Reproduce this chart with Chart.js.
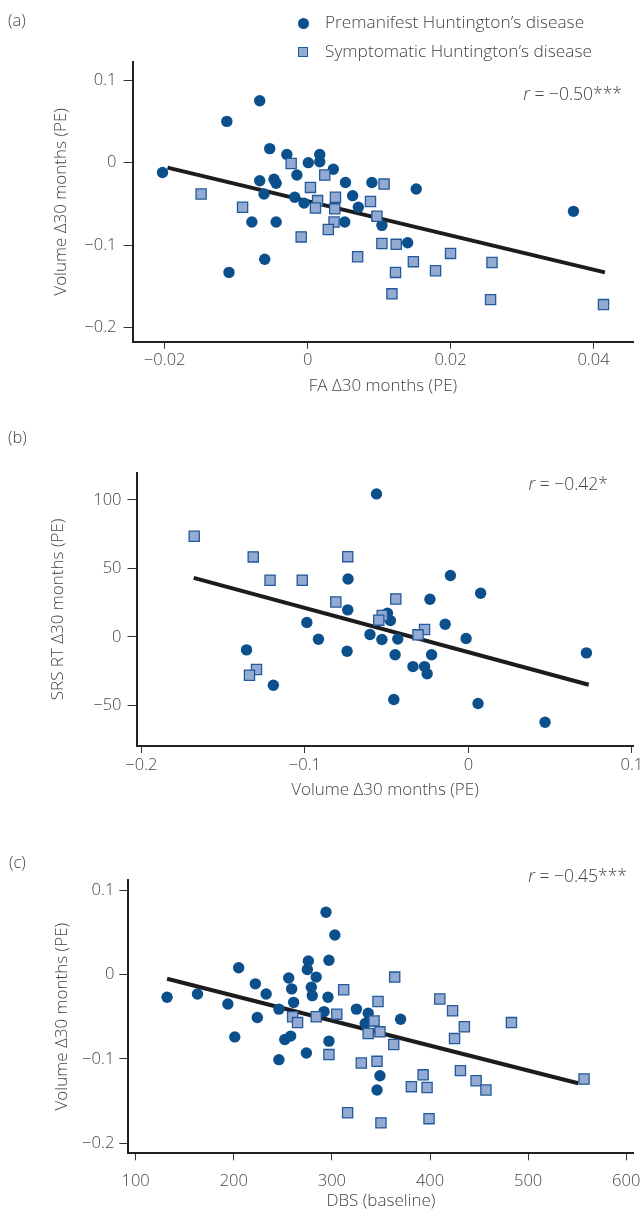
<!DOCTYPE html>
<html lang="en">
<head>
  <meta charset="utf-8">
  <title>Huntington's disease scatter panels</title>
  <script src="https://cdn.jsdelivr.net/npm/chart.js"></script>
  <style>
    body { margin: 0; background: #fff; }
    #page { position: relative; width: 642px; height: 1216px; font-family: "Open Sans", sans-serif; font-weight: 300; color: #444; }
    canvas { position: absolute; left: 0; }
    .txt { position: absolute; white-space: nowrap; line-height: 20px; }
    .lab { font-size: 16.5px; }
    .leg { font-size: 17.3px; }
    .rval { font-size: 17.5px; text-align: right; }
    .rval i { font-style: italic; }
    .dot { position: absolute; width: 11px; height: 11px; border-radius: 50%; background: #0b4f8c; }
    .sq { position: absolute; width: 8px; height: 8px; background: #93aad3; border: 1.3px solid #22599a; }
  </style>
</head>
<body>
  <div id="page">
    <canvas id="chartA" width="642" height="400" style="top:0px"></canvas>
    <canvas id="chartB" width="642" height="390" style="top:420px"></canvas>
    <canvas id="chartC" width="642" height="386" style="top:830px"></canvas>

    <div class="txt lab" style="left:8px; top:10px">(a)</div>
    <div class="txt lab" style="left:8px; top:427px">(b)</div>
    <div class="txt lab" style="left:9px; top:852px">(c)</div>

    <div class="dot" style="left:297.5px; top:17.8px"></div>
    <div class="txt leg" style="left:325px; top:12px">Premanifest Huntington’s disease</div>
    <div class="sq" style="left:298px; top:46.7px"></div>
    <div class="txt leg" style="left:325px; top:41px">Symptomatic Huntington’s disease</div>

    <div class="txt rval" style="right:20px; top:83px"><i>r</i> = −0.50***</div>
    <div class="txt rval" style="right:34px; top:473px"><i>r</i> = −0.42*</div>
    <div class="txt rval" style="right:15px; top:865px"><i>r</i> = −0.45***</div>
  </div>

  <script>
    // (a) FA change vs volume change
    const aPreX = [-0.0203, -0.0113, -0.0067, -0.0053, -0.0029, 0.0001, 0.0017, 0.0017, 0.0036, -0.0015, -0.0067, -0.0047, -0.0044, -0.0061, -0.0018, -0.0005, 0.0053, 0.0090, 0.0063, 0.0071, 0.0052, 0.0104, 0.0152, 0.0140, -0.0078, -0.0044, -0.0060, -0.0110, 0.0372]
    const aPreY = [-0.012, 0.050, 0.075, 0.017, 0.010, 0.000, 0.010, 0.001, -0.008, -0.015, -0.022, -0.020, -0.025, -0.038, -0.042, -0.049, -0.024, -0.024, -0.040, -0.054, -0.072, -0.076, -0.032, -0.097, -0.072, -0.072, -0.117, -0.133, -0.059]
    const aSymX = [-0.0149, -0.0091, -0.0023, 0.0004, 0.0014, 0.0011, 0.0024, 0.0039, 0.0038, 0.0037, 0.0029, -0.0009, 0.0088, 0.0107, 0.0097, 0.0104, 0.0124, 0.0070, 0.0148, 0.0123, 0.0200, 0.0179, 0.0258, 0.0118, 0.0256, 0.0414]
    const aSymY = [-0.038, -0.054, -0.001, -0.030, -0.046, -0.055, -0.015, -0.042, -0.056, -0.072, -0.081, -0.090, -0.047, -0.026, -0.065, -0.098, -0.099, -0.114, -0.120, -0.133, -0.110, -0.131, -0.121, -0.159, -0.166, -0.172]
    const aFitX = [-0.0196, 0.0416]
    const aFitY = [-0.006, -0.133]
    const aXTicks = [-0.02, 0, 0.02, 0.04]
    const aXLabels = ['−0.02', '0', '0.02', '0.04']
    const aYTicks = [-0.2, -0.1, 0, 0.1]
    const aYLabels = ['−0.2', '−0.1', '0', '0.1']

    // (b) volume change vs SRS RT change
    const bPreX = [-0.0562, -0.0736, -0.0738, -0.0110, 0.0075, -0.0235, -0.0495, -0.0477, -0.0988, -0.0142, -0.0917, -0.0602, -0.0529, -0.0432, -0.0014, -0.0742, -0.0448, -0.0225, -0.1357, -0.0339, -0.0268, -0.0252, -0.1193, 0.0722, -0.0456, 0.0059, 0.0469]
    const bPreY = [104.4, 42.3, 19.7, 44.8, 31.9, 27.5, 17.3, 11.9, 10.5, 9.2, -1.7, 1.7, -1.9, -1.5, -1.2, -10.5, -13.1, -13.1, -9.5, -21.7, -21.7, -27.0, -35.3, -11.7, -45.7, -48.7, -62.3]
    const bSymX = [-0.1677, -0.1316, -0.1213, -0.1016, -0.0738, -0.0811, -0.0444, -0.0527, -0.0548, -0.0268, -0.0308, -0.1296, -0.1339]
    const bSymY = [73.5, 58.4, 41.4, 41.4, 58.6, 25.5, 27.7, 15.6, 12.2, 5.4, 1.5, -23.8, -28.0]
    const bFitX = [-0.168, 0.0736]
    const bFitY = [43.1, -35.0]
    const bXTicks = [-0.2, -0.1, 0, 0.1]
    const bXLabels = ['−0.2', '−0.1', '0', '0.1']
    const bYTicks = [-50, 0, 50, 100]
    const bYLabels = ['−50', '0', '50', '100']

    // (c) DBS vs volume change
    const cPreX = [132, 163, 194, 205, 222, 233, 224, 201, 246, 246, 256, 259, 261, 252, 258, 276, 275, 284, 279, 280, 292, 296, 294, 303, 297, 297, 274, 325, 337, 334, 370, 349, 346]
    const cPreY = [-0.027, -0.023, -0.035, 0.008, -0.011, -0.023, -0.051, -0.074, -0.041, -0.101, -0.004, -0.017, -0.033, -0.077, -0.073, 0.016, 0.006, -0.003, -0.015, -0.025, -0.044, -0.027, 0.074, 0.047, 0.017, -0.079, -0.093, -0.041, -0.046, -0.058, -0.053, -0.120, -0.137]
    const cSymX = [260, 265, 284, 305, 312, 297, 364, 347, 343, 337, 349, 363, 410, 423, 435, 425, 483, 330, 346, 393, 381, 397, 431, 447, 457, 557, 316, 350, 399]
    const cSymY = [-0.050, -0.057, -0.050, -0.047, -0.018, -0.095, -0.003, -0.032, -0.055, -0.070, -0.068, -0.083, -0.029, -0.043, -0.062, -0.076, -0.057, -0.105, -0.103, -0.119, -0.133, -0.134, -0.114, -0.126, -0.137, -0.124, -0.164, -0.176, -0.171]
    const cFitX = [132, 551]
    const cFitY = [-0.005, -0.129]
    const cXTicks = [100, 200, 300, 400, 500, 600]
    const cXLabels = ['100', '200', '300', '400', '500', '600']
    const cYTicks = [-0.2, -0.1, 0, 0.1]
    const cYLabels = ['−0.2', '−0.1', '0', '0.1']

    const FONT = '"Open Sans", sans-serif'
    const TEXT = '#444'

    function pts(xs, ys) {
      return xs.map((x, i) => ({ x: x, y: ys[i] }))
    }

    // keep the plot area where the reference has it: no extra room for edge labels
    function noPad(s) {
      s.paddingLeft = 0
      s.paddingRight = 0
      s.paddingTop = 0
      s.paddingBottom = 0
    }

    function makePanel(id, p) {
      const ctx = document.getElementById(id)
      return new Chart(ctx, {
        type: 'scatter',
        data: {
          datasets: [
            {
              label: 'Symptomatic Huntington’s disease',
              data: pts(p.symX, p.symY),
              pointStyle: 'rect',
              pointRadius: 7.2,
              backgroundColor: '#93aad3',
              borderColor: '#22599a',
              borderWidth: 1.3,
              order: 1
            },
            {
              label: 'Premanifest Huntington’s disease',
              data: pts(p.preX, p.preY),
              pointStyle: 'circle',
              pointRadius: 5.7,
              backgroundColor: '#0b4f8c',
              borderWidth: 0,
              order: 2
            },
            {
              label: 'fit',
              data: pts(p.fitX, p.fitY),
              showLine: true,
              pointRadius: 0,
              borderColor: '#1c1c1c',
              borderWidth: 4,
              order: 3
            }
          ]
        },
        options: {
          responsive: false,
          animation: false,
          devicePixelRatio: 1,
          layout: { padding: { top: p.top, right: p.right, left: 0, bottom: 0 } },
          plugins: { legend: { display: false }, tooltip: { enabled: false } },
          scales: {
            x: {
              type: 'linear',
              min: p.xMin,
              max: p.xMax,
              afterBuildTicks: s => { s.ticks = p.xTicks.map(v => ({ value: v })) },
              afterFit: s => { s.height = p.xHeight; noPad(s) },
              ticks: {
                callback: (v, i) => p.xLabels[i],
                color: TEXT,
                font: { family: FONT, size: 16.5, weight: 300 },
                padding: p.xPad,
                maxRotation: 0,
                autoSkip: false
              },
              grid: { drawOnChartArea: false, drawTicks: true, tickLength: 7, tickColor: '#333', lineWidth: 1 },
              border: { display: true, color: '#222', width: 2 },
              title: {
                display: true,
                text: p.xTitle,
                color: TEXT,
                font: { family: FONT, size: 17, weight: 300 },
                padding: { top: 0, bottom: p.xTitlePad }
              }
            },
            y: {
              type: 'linear',
              min: p.yMin,
              max: p.yMax,
              afterBuildTicks: s => { s.ticks = p.yTicks.map(v => ({ value: v })) },
              afterFit: s => { s.width = p.yWidth; noPad(s) },
              ticks: {
                callback: (v, i) => p.yLabels[i],
                color: TEXT,
                font: { family: FONT, size: 16.5, weight: 300 },
                padding: p.yPad,
                autoSkip: false
              },
              grid: { drawOnChartArea: false, drawTicks: true, tickLength: 9, tickColor: '#333', lineWidth: 1 },
              border: { display: true, color: '#222', width: 2 },
              title: {
                display: true,
                text: p.yTitle,
                color: TEXT,
                font: { family: FONT, size: 17, weight: 300 },
                padding: { top: p.yTitlePad, bottom: 0 }
              }
            }
          }
        }
      })
    }

    function renderCharts() {
      makePanel('chartA', {
        preX: aPreX, preY: aPreY, symX: aSymX, symY: aSymY, fitX: aFitX, fitY: aFitY,
        xTicks: aXTicks, xLabels: aXLabels, yTicks: aYTicks, yLabels: aYLabels,
        xMin: -0.0245, xMax: 0.0456, yMin: -0.217, yMax: 0.122,
        top: 62, right: 4, yWidth: 132.5, xHeight: 58.3,
        xPad: 2, yPad: 7, xTitlePad: 3.8, yTitlePad: 50.8,
        xTitle: 'FA Δ30 months (PE)', yTitle: 'Volume Δ30 months (PE)'
      })
      makePanel('chartB', {
        preX: bPreX, preY: bPreY, symX: bSymX, symY: bSymY, fitX: bFitX, fitY: bFitY,
        xTicks: bXTicks, xLabels: bXLabels, yTicks: bYTicks, yLabels: bYLabels,
        xMin: -0.203, xMax: 0.101, yMin: -79.7, yMax: 119.9,
        top: 52.7, right: 7, yWidth: 136.5, xHeight: 64,
        xPad: 2, yPad: 6, xTitlePad: 9.8, yTitlePad: 47.8,
        xTitle: 'Volume Δ30 months (PE)', yTitle: 'SRS RT Δ30 months (PE)'
      })
      makePanel('chartC', {
        preX: cPreX, preY: cPreY, symX: cSymX, symY: cSymY, fitX: cFitX, fitY: cFitY,
        xTicks: cXTicks, xLabels: cXLabels, yTicks: cYTicks, yLabels: cYLabels,
        xMin: 92.5, xMax: 607.4, yMin: -0.2121, yMax: 0.1122,
        top: 50, right: 7, yWidth: 128.3, xHeight: 62.7,
        xPad: 11, yPad: 5, xTitlePad: 5, yTitlePad: 51.5,
        xTitle: 'DBS (baseline)', yTitle: 'Volume Δ30 months (PE)'
      })
    }

    window.onload = renderCharts
  </script>
</body>
</html>
